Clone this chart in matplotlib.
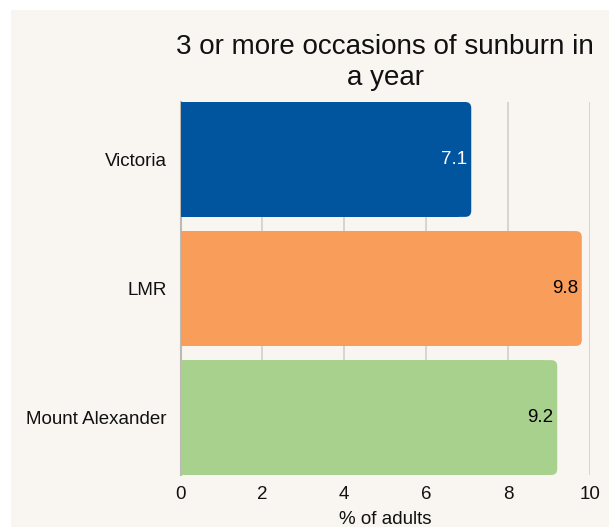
import matplotlib
matplotlib.use('Agg')
import matplotlib.pyplot as plt
from matplotlib.patches import FancyBboxPatch, Rectangle

matplotlib.rcParams['font.family'] = ['Liberation Sans', 'DejaVu Sans']

# data
areas = ['Victoria', 'LMR', 'Mount Alexander']
values = [7.1, 9.8, 9.2]
bar_colors = ['#00559e', '#f99d5a', '#a9d18e']
label_colors = ['white', 'black', 'black']
xticks = [0, 2, 4, 6, 8, 10]
title = '3 or more occasions of sunburn in\na year'
xlabel = '% of adults'

bg = '#f9f6f2'
W, H = 609, 527

fig = plt.figure(figsize=(W / 100, H / 100), dpi=100, facecolor='white')
# beige panel, leaves a thin white margin top and left
fig.patches.append(Rectangle((11 / W, 0), 1, 1 - 10 / H, transform=fig.transFigure,
                             facecolor=bg, edgecolor='none', zorder=-1))

ax = fig.add_axes([180.5 / W, 1 - 475 / H, (590 - 180.5) / W, (475 - 102) / H])
ax.set_facecolor(bg)

bar_h = 0.89
px_x = (590 - 180.5) / 10          # pixels per x unit
px_y = (475 - 102) / 2.89          # pixels per y unit
radius = 6 / px_x
aspect = px_x / px_y

for i, (v, c) in enumerate(zip(values, bar_colors)):
    y0 = i - bar_h / 2
    # rounded right end, square left end
    ax.add_patch(FancyBboxPatch((0, y0), v, bar_h,
                                boxstyle=f'round,pad=0,rounding_size={radius}',
                                mutation_aspect=aspect, facecolor=c,
                                edgecolor='none', zorder=3))
    ax.add_patch(Rectangle((0, y0), v - 2 * radius, bar_h, facecolor=c,
                           edgecolor='none', zorder=3))
    ax.text(v - 4 / px_x, i, f'{v}', ha='right', va='center',
            fontsize=13.5, color=label_colors[i], zorder=4)

ax.set_xlim(0, 10)
ax.set_ylim(2.445, -0.445)
ax.set_xticks(xticks)
ax.set_yticks(range(len(areas)))
ax.set_yticklabels(areas)
ax.tick_params(axis='both', length=0, labelsize=13.5, colors='#111111')
ax.tick_params(axis='x', pad=8)
ax.tick_params(axis='y', pad=10)

ax.grid(True, axis='x', color='#d2cec9', linewidth=1.2, zorder=0)
ax.set_axisbelow(True)
for s in ['top', 'right', 'bottom']:
    ax.spines[s].set_visible(False)
ax.spines['left'].set_color('#bdbab6')
ax.spines['left'].set_linewidth(1.5)

ax.set_xlabel(xlabel, fontsize=13.5, labelpad=6, color='#111111')
ax.set_title(title, fontsize=20, pad=12, linespacing=1.25, color='#111111')

fig.savefig('out.png', dpi=100, facecolor=fig.get_facecolor())
